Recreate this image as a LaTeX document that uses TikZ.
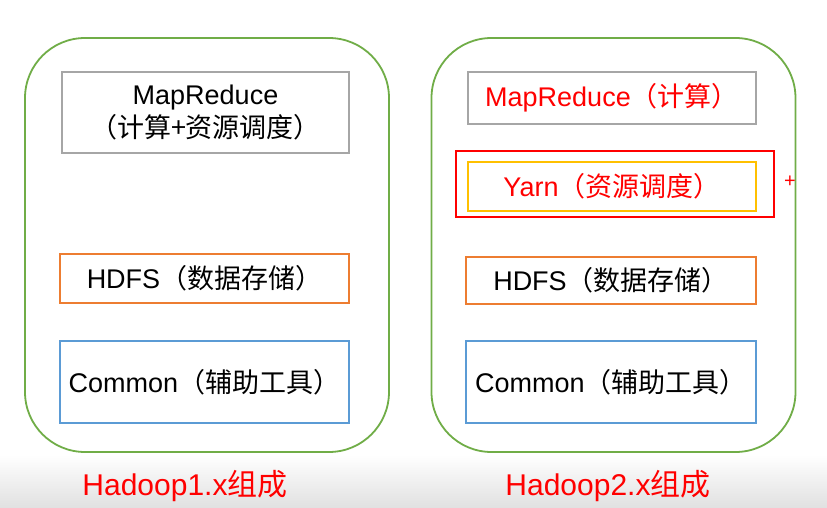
\documentclass[tikz,border=0pt]{standalone}
\usepackage{fontspec}
\setmainfont{Liberation Sans}
\newfontfamily\cjk{Noto Sans CJK SC}
\newcommand\zh[1]{{\cjk #1}}
\definecolor{grn}{HTML}{70AD47}
\definecolor{gry}{HTML}{A6A6A6}
\definecolor{org}{HTML}{ED7D31}
\definecolor{blu}{HTML}{5B9BD5}
\definecolor{ylw}{HTML}{FFC000}
\definecolor{rd}{HTML}{FF0000}
\begin{document}
\begin{tikzpicture}[x=1pt,y=-1pt,
  outer/.style={draw=grn, line width=1.8pt, rounded corners=60pt, minimum width=364pt, minimum height=414pt, inner sep=0pt},
  part/.style={draw=#1, line width=1.6pt, inner sep=0pt, align=center, font=\fontsize{27}{33}\selectfont},
  hilite/.style={draw=rd, line width=2.6pt, inner sep=0pt, minimum width=318pt, minimum height=66pt},
  caption/.style={text=rd, font=\fontsize{30}{36}\selectfont, inner sep=0pt}]
\useasboundingbox (0,0) rectangle (827,508);
\fill[white] (0,0) rectangle (827,508);
\shade[top color=white, bottom color=black!12] (0,455) rectangle (827,508);

% left column
\node[outer] (L) at (207,245) {};
\node[part=gry, minimum width=287pt, minimum height=81pt] (lmr) at (205.5,112.5) {MapReduce\\\zh{（计算+资源调度）}};
\node[part=org, minimum width=289pt, minimum height=49pt] (lhdfs) at (204.5,278.5) {HDFS\zh{（数据存储）}};
\node[part=blu, minimum width=289pt, minimum height=82pt] (lcom) at (204.5,382) {Common\zh{（辅助工具）}};
\node[caption] (lcap) at (185,486) {Hadoop1.x\zh{组成}};

% right column
\node[outer] (R) at (613.5,245) {};
\node[part=gry, minimum width=288pt, minimum height=52pt, text=rd] (rmr) at (612,98) {MapReduce\zh{（计算）}};
\node[hilite] (hl) at (615,184) {};
\node[part=ylw, minimum width=288pt, minimum height=49pt, text=rd] (yarn) at (612,186.5) {Yarn\zh{（资源调度）}};
\node[part=org, minimum width=290pt, minimum height=47pt] (rhdfs) at (611,280.5) {HDFS\zh{（数据存储）}};
\node[part=blu, minimum width=290pt, minimum height=82pt] (rcom) at (611,382) {Common\zh{（辅助工具）}};
\node[caption] (rcap) at (608,486) {Hadoop2.x\zh{组成}};

\node[text=rd, font=\fontsize{20}{20}\selectfont, inner sep=0pt] (plus) at (790,182) {+};
\end{tikzpicture}
\end{document}
